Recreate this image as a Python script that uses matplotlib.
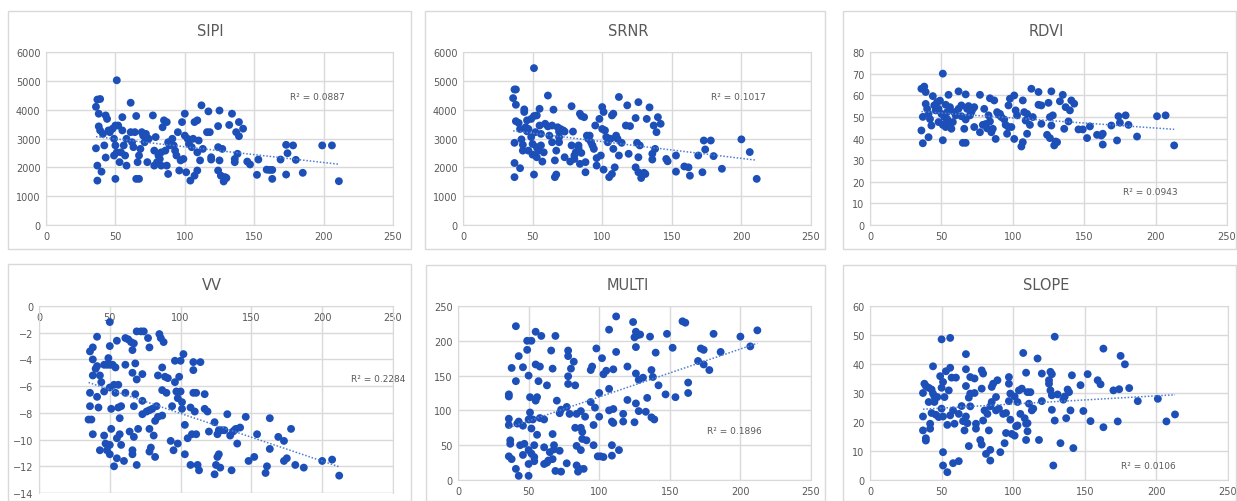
import matplotlib
matplotlib.use("Agg")
import matplotlib.pyplot as plt
from matplotlib.patches import Rectangle
import numpy as np

# ---- data (x, y pairs per panel) ----
sipi_x = [36, 37, 39, 38, 38, 39, 36, 37, 37, 40, 41, 42, 43, 43, 44, 45, 46, 48, 50, 51, 50, 49, 50, 49, 51, 52,
          53, 54, 55, 55, 56, 57, 58, 58, 61, 61, 62, 63, 64, 65, 65, 67, 66, 67, 68, 69, 70, 71, 72, 73, 74, 77,
          78, 79, 80, 78, 81, 82, 83, 83, 84, 85, 86, 87, 87, 88, 88, 89, 91, 92, 93, 94, 95, 96, 97, 98, 99, 100,
          100, 101, 102, 103, 104, 105, 106, 107, 107, 109, 109, 109, 110, 111, 112, 113, 116, 117, 118, 119, 119,
          124, 124, 124, 125, 125, 126, 127, 128, 129, 130, 132, 134, 136, 136, 137, 138, 139, 139, 142, 145, 147,
          152, 153, 159, 161, 163, 163, 169, 173, 173, 174, 178, 180, 185, 199, 206, 211]
sipi_y = [4100, 4350, 4370, 3860, 3420, 3280, 2660, 2060, 1540, 1850, 3160, 2760, 2340, 3800, 3680, 3280, 3220,
          3340, 3450, 5020, 1600, 2990, 2760, 2410, 2520, 3450, 2180, 2520, 3740, 3280, 2760, 2410, 2060, 2990,
          3220, 4240, 2870, 2700, 3220, 3780, 1600, 1600, 2180, 2410, 2640, 3220, 3100, 2870, 3160, 2180, 2990,
          3800, 2580, 3050, 2180, 2060, 2410, 2290, 2060, 2520, 3390, 3630, 2580, 3570, 2060, 1770, 2870, 2760,
          2990, 2760, 2580, 2410, 3220, 1890, 2240, 3570, 2290, 3860, 3100, 1830, 2990, 2810, 1540, 2700, 2990,
          1710, 3570, 2520, 1890, 3630, 2930, 2240, 4150, 2640, 3220, 3940, 3220, 2350, 2270, 3430, 1890, 2700,
          3970, 2240, 1710, 2640, 1510, 1660, 1630, 3470, 3860, 2180, 2290, 3220, 2470, 3080, 3570, 3340, 2200,
          2100, 1740, 2270, 1920, 1910, 1600, 1910, 2270, 1750, 2780, 2490, 2760, 2260, 1810, 2760, 2760, 1520]

srnr_x = [36, 37, 38, 38, 37, 37, 37, 38, 40, 41, 41, 42, 43, 43, 44, 44, 45, 46, 46, 47, 47, 49, 49, 50, 50, 51,
          51, 51, 52, 53, 53, 53, 54, 55, 55, 56, 56, 57, 58, 59, 61, 61, 62, 64, 64, 65, 66, 67, 66, 67, 68, 69,
          69, 69, 70, 72, 73, 73, 78, 78, 77, 79, 80, 80, 81, 83, 83, 84, 85, 84, 85, 87, 88, 88, 89, 90, 91, 92,
          93, 94, 95, 96, 96, 98, 99, 100, 100, 101, 101, 102, 103, 104, 105, 107, 106, 107, 108, 108, 109, 110,
          111, 112, 112, 114, 117, 118, 119, 120, 124, 124, 125, 126, 126, 126, 127, 128, 130, 131, 132, 134, 136,
          136, 137, 138, 139, 140, 142, 146, 147, 153, 153, 159, 162, 163, 169, 172, 173, 174, 178, 180, 186, 200,
          206, 211]
srnr_y = [4400, 4700, 4700, 4170, 2850, 2150, 1660, 3600, 3540, 1970, 3330, 2970, 2780, 2580, 4010, 3920, 3390,
          3250, 3630, 2580, 3330, 3680, 3050, 2810, 2440, 5440, 1750, 3780, 3220, 2700, 3800, 2350, 2580, 4030,
          3450, 3160, 2760, 2200, 2520, 3510, 3420, 4490, 3100, 3450, 2870, 4000, 1660, 1750, 2240, 2580, 3390,
          3240, 3050, 2870, 3330, 3280, 2350, 3240, 4120, 2760, 2200, 3240, 2410, 2290, 2520, 2760, 2660, 3860,
          3780, 2120, 2500, 3740, 2180, 1830, 3100, 2990, 3100, 2870, 2760, 2640, 3450, 2060, 2320, 3680, 2410,
          3330, 4090, 3920, 1920, 3280, 3050, 2870, 1660, 1770, 2990, 3800, 3860, 2640, 2000, 3100, 2990, 2410,
          4440, 2850, 3450, 4150, 2470, 3430, 2000, 3710, 2850, 4260, 2350, 1830, 2760, 1630, 1810, 1770, 3680,
          4080, 2270, 2470, 3450, 2640, 3220, 3740, 3510, 2290, 2210, 1850, 2410, 2030, 2000, 1710, 2410, 1830,
          2930, 2620, 2930, 2390, 1950, 2970, 2530, 1600]

rdvi_x = [36, 38, 39, 39, 37, 36, 37, 41, 40, 41, 42, 43, 44, 45, 46, 47, 48, 48, 49, 50, 51, 51, 51, 52, 53, 53,
          54, 54, 55, 55, 56, 57, 58, 59, 60, 62, 62, 64, 64, 65, 67, 66, 67, 67, 68, 69, 70, 71, 72, 73, 73, 77,
          77, 79, 80, 81, 82, 83, 84, 84, 85, 86, 87, 88, 89, 90, 91, 92, 94, 95, 96, 97, 97, 98, 99, 101, 101,
          102, 103, 106, 107, 107, 108, 109, 110, 110, 112, 113, 114, 118, 118, 120, 120, 124, 125, 126, 126, 127,
          127, 128, 129, 130, 131, 133, 135, 136, 137, 139, 140, 141, 143, 146, 149, 152, 154, 159, 162, 163, 163,
          169, 173, 174, 175, 179, 181, 187, 201, 207, 213]
rdvi_y = [63, 64, 61.5, 56, 50, 43.7, 37.8, 40.6, 53.7, 51.4, 49, 46, 59.6, 55.3, 53, 56.8, 47.6, 53.7, 57.5, 51.4,
          70, 46.3, 39.2, 49.9, 55.6, 45.3, 52.2, 49, 60.2, 47.6, 54.5, 44.5, 47.6, 52.2, 50.7, 61.8, 53.7, 50.3,
          55.3, 38, 38, 44.5, 60.4, 48.8, 53.7, 55, 50.7, 52.2, 53.7, 54.5, 45.3, 60.2, 42.9, 46.3, 53.7, 46.7,
          44.7, 50.7, 47.9, 58.6, 42.9, 44.5, 57.6, 39.8, 52.2, 51, 51.4, 49.9, 48.8, 46.3, 42.2, 55.3, 45.3, 58.4,
          45.3, 59.9, 39.8, 53, 50.7, 36.3, 38.3, 57.6, 52.2, 48.3, 42.2, 51.4, 46.3, 63, 49.9, 61.5, 55.6, 55.3,
          46.8, 41.7, 56.5, 49.9, 40.2, 61.8, 46, 50.7, 36.8, 38.6, 38.3, 57.2, 60.2, 44.5, 54.5, 47.9, 53, 57.6,
          56.1, 44.2, 44.2, 40.2, 45.6, 41.7, 41.4, 37.2, 42.2, 46, 39.1, 50.3, 47.3, 50.7, 46.3, 40.9, 50.3, 50.7,
          36.8]

vv_x = [36, 38, 38, 38, 36, 36, 35, 37, 38, 41, 41, 40, 41, 42, 43, 44, 43, 46, 46, 46, 47, 48, 48, 49, 50, 50,
        50, 50, 51, 51, 50, 50, 52, 53, 53, 54, 54, 55, 55, 55, 56, 56, 57, 57, 58, 58, 60, 61, 61, 61, 63, 64,
        65, 66, 66, 66, 66, 67, 67, 67, 68, 69, 68, 69, 69, 70, 72, 73, 73, 73, 74, 76, 77, 78, 78, 78, 79, 78,
        80, 81, 82, 82, 83, 84, 84, 85, 86, 87, 87, 87, 88, 89, 90, 91, 93, 94, 95, 96, 96, 97, 98, 98, 99, 100,
        100, 101, 101, 102, 103, 103, 105, 107, 107, 108, 109, 109, 109, 110, 111, 111, 112, 113, 114, 117, 117,
        119, 120, 124, 124, 125, 126, 126, 127, 127, 128, 129, 131, 133, 135, 136, 137, 138, 139, 140, 142, 146,
        148, 152, 154, 160, 161, 163, 163, 169, 173, 173, 175, 178, 181, 187, 200, 207, 212]
vv_y = [-3.4, -3.1, -4.0, -5.2, -6.5, -7.5, -8.5, -8.5, -9.6, -2.3, -4.5, -4.7, -6.8, -7.6, -5.2, -5.7, -10.8,
        -6.4, -4.4, -9.7, -10.3, -4.4, -10.8, -3.9, -1.2, -4.4, -3.0, -6.1, -7.7, -9.2, -10.4, -11.1, -4.4, -5.9,
        -12.0, -4.6, -6.5, -2.6, -9.9, -11.4, -5.9, -7.6, -8.4, -9.6, -7.5, -10.4, -11.6, -4.4, -6.5, -2.4, -2.5,
        -9.4, -2.7, -3.3, -10.8, -11.1, -5.0, -7.5, -2.8, -9.8, -6.6, -5.5, -4.3, -1.9, -11.9, -9.2, -1.9, -5.1,
        -7.1, -8.1, -1.9, -7.9, -2.4, -3.1, -7.8, -9.2, -10.6, -10.9, -7.7, -9.7, -11.3, -8.6, -7.5, -5.2, -8.3,
        -2.1, -2.4, -8.2, -4.6, -6.3, -2.7, -5.3, -6.5, -5.4, -10.1, -7.5, -10.8, -4.1, -5.7, -6.4, -10.3, -6.9,
        -5.3, -4.1, -6.4, -7.7, -7.2, -3.6, -11.1, -8.9, -9.9, -7.6, -11.9, -9.6, -4.8, -4.2, -6.5, -7.9, -6.5,
        -9.6, -11.9, -12.3, -4.2, -6.6, -7.7, -7.9, -9.4, -12.6, -8.7, -11.9, -9.6, -11.3, -11.1, -9.3, -12.1,
        -9.3, -9.3, -8.1, -9.7, -12.3, -9.4, -9.3, -9.2, -10.3, -9.1, -8.3, -11.6, -11.3, -9.6, -12.5, -12.0,
        -8.4, -10.7, -9.8, -11.6, -10.1, -11.4, -9.2, -11.9, -12.1, -11.6, -11.5, -12.7]

multi_x = [36, 36, 36, 36, 37, 37, 36, 38, 38, 41, 41, 41, 42, 43, 43, 43, 44, 46, 46, 47, 46, 49, 49, 50, 50, 50,
           50, 50, 51, 51, 52, 52, 52, 53, 54, 54, 54, 55, 55, 55, 56, 56, 57, 58, 58, 59, 61, 61, 61, 63, 63, 64,
           65, 66, 67, 67, 67, 68, 68, 69, 69, 70, 72, 72, 73, 73, 77, 77, 78, 78, 78, 78, 79, 80, 82, 83, 83, 84,
           84, 84, 85, 86, 87, 87, 87, 88, 88, 89, 90, 91, 94, 94, 95, 96, 96, 97, 98, 99, 100, 100, 101, 102,
           103, 103, 105, 107, 107, 107, 109, 109, 109, 110, 110, 110, 112, 112, 114, 117, 117, 120, 120, 124, 125,
           125, 126, 126, 126, 126, 127, 128, 128, 129, 131, 133, 134, 136, 137, 137, 138, 139, 140, 142, 147, 148,
           152, 154, 159, 161, 163, 163, 170, 172, 174, 174, 178, 181, 186, 200, 207, 212]
multi_y = [123, 120, 88, 79, 57, 52, 34, 30, 161, 221, 142, 16, 81, 84, 6, 178, 50, 162, 78, 52, 36, 187, 200,
           150, 87, 43, 23, 6, 119, 97, 74, 38, 200, 87, 33, 50, 27, 166, 213, 114, 65, 119, 142, 163, 89, 207, 47,
           87, 23, 25, 136, 28, 40, 186, 66, 160, 30, 50, 44, 207, 13, 114, 42, 96, 12, 101, 105, 24, 186, 178,
           149, 138, 95, 160, 170, 136, 75, 49, 95, 21, 12, 16, 75, 99, 43, 69, 59, 16, 91, 57, 112, 158, 163, 79,
           50, 104, 189, 34, 91, 125, 34, 175, 33, 152, 157, 216, 100, 131, 84, 50, 35, 159, 82, 102, 235, 184, 43,
           95, 84, 163, 115, 227, 205, 83, 191, 153, 110, 213, 208, 144, 99, 209, 147, 98, 118, 206, 90, 158, 148,
           87, 183, 136, 123, 210, 190, 119, 228, 226, 140, 125, 171, 189, 166, 187, 158, 210, 184, 206, 192, 215]

slope_x = [37, 37, 38, 37, 39, 39, 39, 41, 41, 42, 42, 43, 43, 44, 44, 45, 45, 46, 47, 48, 49, 50, 50, 50, 51, 51,
           51, 51, 52, 53, 54, 54, 55, 56, 56, 56, 57, 58, 58, 59, 60, 62, 62, 64, 65, 66, 67, 67, 67, 67, 68, 69,
           69, 70, 70, 70, 73, 73, 74, 74, 77, 78, 78, 78, 79, 79, 80, 81, 82, 83, 84, 84, 84, 85, 85, 86, 88, 88,
           89, 90, 91, 93, 94, 95, 95, 97, 97, 97, 98, 98, 99, 101, 101, 102, 103, 103, 104, 105, 106, 107, 108,
           109, 109, 109, 110, 110, 110, 111, 112, 113, 114, 117, 118, 120, 120, 125, 125, 126, 126, 127, 127, 127,
           128, 129, 129, 131, 133, 135, 136, 137, 138, 139, 140, 141, 142, 147, 149, 152, 154, 159, 161, 163, 163,
           170, 174, 173, 175, 178, 181, 187, 201, 207, 213]
slope_y = [21.9, 30, 33.2, 17.1, 14.4, 13.6, 32.4, 31.8, 26.9, 19.4, 17.7, 23.1, 31.2, 39.2, 29.8, 26.9, 28.8,
           22.5, 28.6, 21.7, 35.8, 48.5, 24.6, 31.8, 9.6, 21.9, 33.8, 5, 28.6, 37.5, 19, 2.7, 30.9, 49, 38.7, 22.3,
           35.3, 24, 5.8, 19.4, 35.3, 6.5, 22.8, 25.5, 20.3, 17.1, 32.4, 43.4, 38.2, 21.9, 19.6, 11.7, 28.4, 35.5,
           25.4, 29.8, 35, 30, 19.4, 17.7, 13.8, 31.5, 12.2, 37.8, 36.7, 20.5, 24, 9, 22.8, 17.1, 25.4, 10.4, 6.7,
           26.9, 32.1, 33.2, 28.6, 24, 34.4, 24.6, 9.6, 22.8, 12.7, 23.1, 16.2, 33.2, 35.5, 27.2, 29.8, 20.8, 15.9,
           28.8, 15.3, 18.5, 26.9, 18.8, 30.9, 22.8, 31.5, 43.8, 21.3, 19.4, 13.8, 37, 30.3, 19.6, 16.8, 26.3, 30.3,
           24, 24.6, 41.9, 13.8, 27.2, 36.7, 34.4, 33.2, 30.9, 37.3, 36.5, 29.2, 24.2, 5, 49.4, 20.5, 29.5, 12.7,
           27.7, 28.8, 21.3, 31.2, 30.3, 24, 36.1, 11, 32.7, 23.8, 36.5, 20.3, 34.4, 33, 45.3, 18.2, 30.9, 31.3,
           20.2, 42.8, 39.9, 31.7, 27.2, 28, 20.2, 22.6]

titles = ["SIPI", "SRNR", "RDVI", "VV", "MULTI", "SLOPE"]
r2_labels = ["R² = 0.0887", "R² = 0.1017", "R² = 0.0943", "R² = 0.2284", "R² = 0.1896", "R² = 0.0106"]
r2_pos = [(176, 4440), (178, 4440), (177, 15.4), (220, -5.4), (176, 71), (175, 5)]
y_ranges = [(0, 6000, 1000), (0, 6000, 1000), (0, 80, 10), (-14, 0, 2), (0, 250, 50), (0, 60, 10)]

xs = [sipi_x, srnr_x, rdvi_x, vv_x, multi_x, slope_x]
ys = [sipi_y, srnr_y, rdvi_y, vv_y, multi_y, slope_y]

# ---- layout in pixels ----
W, H = 1237, 502
boxes = [(8, 12, 411, 250), (425, 12, 825, 250), (843, 12, 1236, 250),
         (8, 265, 411, 502), (426, 266, 825, 502), (843, 266, 1236, 502)]
plots = [(46, 53, 393, 226), (463, 53, 811, 226), (870, 53, 1227, 226),
         (39, 307, 393, 494), (458, 307, 811, 481), (870, 307, 1228, 481)]
title_xy = [(210, 32), (628, 32), (1046, 32), (212, 285), (628, 286), (1046, 286)]

blue = "#1d4fb8"
grid = "#d9d9d9"
txt = "#595959"

fig = plt.figure(figsize=(W / 100, H / 100), dpi=100)
fig.patch.set_facecolor("white")

for i in range(6):
    bl, bt, br, bb = boxes[i]
    fig.patches.append(Rectangle((bl / W, 1 - bb / H), (br - bl) / W, (bb - bt) / H,
                                 transform=fig.transFigure, fill=False, edgecolor=grid, lw=1))
    l, t, r, b = plots[i]
    ax = fig.add_axes([l / W, 1 - b / H, (r - l) / W, (b - t) / H])
    ylo, yhi, ystep = y_ranges[i]
    ax.set_xlim(0, 250)
    ax.set_ylim(ylo, yhi)
    ax.set_xticks(np.arange(0, 251, 50))
    ax.set_yticks(np.arange(ylo, yhi + ystep / 2, ystep))
    ax.grid(True, color=grid, lw=1)
    ax.set_axisbelow(True)
    for s in ax.spines.values():
        s.set_color(grid)
    ax.tick_params(length=0, labelsize=7, labelcolor=txt, pad=4)
    if ylo < 0:
        ax.spines["bottom"].set_position(("data", 0))
        ax.spines["top"].set_visible(False)
        ax.axhline(ylo, color=grid, lw=1, zorder=0)

    x = np.array(xs[i], dtype=float)
    y = np.array(ys[i], dtype=float)
    ax.scatter(x, y, s=32, color=blue, edgecolors="none", zorder=3)
    k, c = np.polyfit(x, y, 1)
    xl = np.array([x.min(), x.max()])
    ax.plot(xl, k * xl + c, ls=(0, (1, 1.2)), color="#4f7fd0", lw=1.1, zorder=4)
    ax.text(r2_pos[i][0], r2_pos[i][1], r2_labels[i], fontsize=6.5, color=txt, ha="left", va="center")

    fig.text(title_xy[i][0] / W, 1 - title_xy[i][1] / H, titles[i], fontsize=10.5, color=txt,
             ha="center", va="center")

fig.savefig("out.png", dpi=100)
